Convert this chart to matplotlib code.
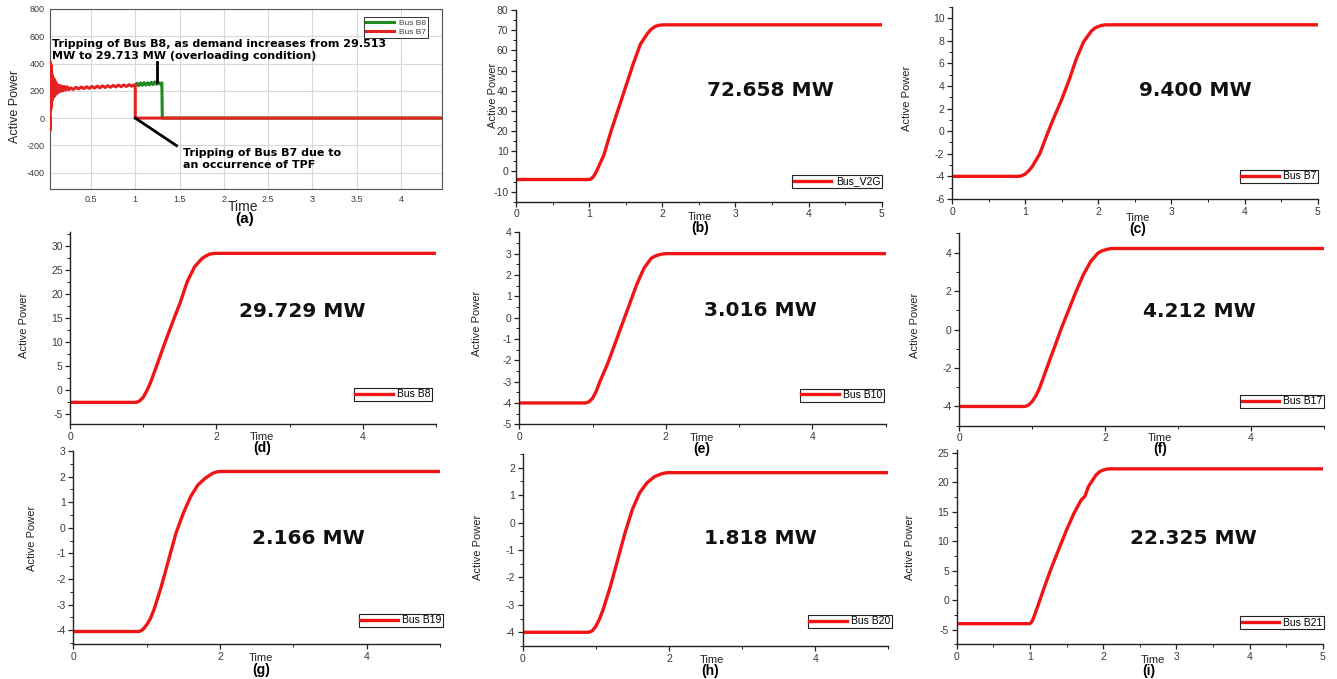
import matplotlib
matplotlib.use('Agg')
import matplotlib.pyplot as plt
from matplotlib.ticker import MultipleLocator

plt.rcParams['axes.unicode_minus'] = False

W, H = 1337, 679

# ---------------- Panel (a) data ----------------
t_a_b7 = [0.037, 0.039, 0.042, 0.045, 0.048, 0.051, 0.054, 0.057, 0.060, 0.064,
          0.068, 0.073, 0.078, 0.084, 0.090, 0.097, 0.105, 0.113, 0.122, 0.132,
          0.143, 0.155, 0.168, 0.182, 0.197, 0.213, 0.230, 0.250,
          0.27, 0.30, 0.33, 0.36, 0.39, 0.42, 0.45, 0.48, 0.51, 0.54, 0.57,
          0.60, 0.63, 0.66, 0.69, 0.72, 0.75, 0.78, 0.81, 0.84, 0.87, 0.90,
          0.93, 0.96, 0.99, 1.0, 1.0, 4.46]
p_a_b7 = [0, -90, 410, 60, 390, 80, 350, 120, 320, 140,
          300, 150, 290, 160, 280, 170, 260, 180, 245, 190,
          240, 195, 235, 200, 232, 205, 230, 208,
          222, 210, 226, 214, 228, 216, 230, 218, 232, 220, 234,
          222, 236, 224, 238, 226, 240, 228, 242, 230, 243, 232,
          245, 234, 244, 240, 0, 0]
t_a_b8 = [1.0, 1.02, 1.04, 1.06, 1.08, 1.10, 1.12, 1.14, 1.16, 1.18, 1.20,
          1.22, 1.24, 1.26, 1.28, 1.30, 1.305, 4.46]
p_a_b8 = [240, 255, 238, 258, 240, 260, 242, 258, 244, 262, 246,
          265, 248, 262, 250, 258, 0, 0]

# ---------------- Panels (b)-(i) data ----------------
t_b = [0, 1.0, 1.03, 1.06, 1.1, 1.2, 1.3, 1.4, 1.5, 1.6, 1.7, 1.8, 1.85, 1.9, 1.95, 2.0, 2.1, 5.0]
p_b = [-4, -4, -3.6, -2.5, 0, 8, 20, 31, 42, 53, 63, 68.5, 70.5, 71.8, 72.4, 72.6, 72.658, 72.658]

t_c = [0, 0.9, 0.95, 1.0, 1.05, 1.1, 1.2, 1.3, 1.4, 1.5, 1.6, 1.7, 1.8, 1.9, 1.95, 2.0, 2.05, 2.1, 5.0]
p_c = [-4, -4, -3.95, -3.8, -3.5, -3.1, -2.0, -0.3, 1.3, 2.8, 4.5, 6.4, 7.9, 8.8, 9.1, 9.25, 9.35, 9.4, 9.4]

t_d = [0, 0.9, 0.95, 1.0, 1.05, 1.1, 1.2, 1.3, 1.4, 1.5, 1.6, 1.7, 1.8, 1.85, 1.9, 1.95, 2.0, 5.0]
p_d = [-2.5, -2.5, -2.2, -1.4, 0.0, 1.7, 5.9, 10.1, 14.2, 18.1, 22.6, 25.7, 27.4, 27.9, 28.3, 28.45, 28.5, 28.5]

t_e = [0, 0.9, 0.95, 1.0, 1.05, 1.1, 1.2, 1.3, 1.4, 1.5, 1.6, 1.7, 1.8, 1.85, 1.9, 1.95, 2.0, 5.0]
p_e = [-4, -4, -3.95, -3.78, -3.45, -3.0, -2.2, -1.28, -0.34, 0.59, 1.53, 2.31, 2.78, 2.88, 2.94, 2.98, 3.0, 3.0]

t_f = [0, 0.9, 0.95, 1.0, 1.05, 1.1, 1.2, 1.3, 1.4, 1.5, 1.6, 1.7, 1.8, 1.9, 1.95, 2.0, 2.05, 2.1, 5.0]
p_f = [-4, -4, -3.93, -3.74, -3.45, -3.05, -2.0, -0.97, 0.07, 1.02, 1.97, 2.84, 3.53, 3.97, 4.08, 4.14, 4.19, 4.21, 4.21]

t_g = [0, 0.9, 0.95, 1.0, 1.05, 1.1, 1.2, 1.3, 1.4, 1.5, 1.6, 1.7, 1.8, 1.9, 1.95, 2.0, 5.0]
p_g = [-4.05, -4.05, -3.97, -3.79, -3.55, -3.2, -2.29, -1.25, -0.21, 0.57, 1.22, 1.68, 1.94, 2.13, 2.18, 2.2, 2.2]

t_h = [0, 0.9, 0.95, 1.0, 1.05, 1.1, 1.2, 1.3, 1.4, 1.5, 1.6, 1.7, 1.8, 1.9, 1.95, 2.0, 5.0]
p_h = [-4, -4, -3.95, -3.78, -3.52, -3.17, -2.32, -1.35, -0.37, 0.48, 1.09, 1.45, 1.67, 1.78, 1.81, 1.82, 1.82]

t_i = [0, 1.0, 1.03, 1.05, 1.1, 1.2, 1.3, 1.4, 1.5, 1.6, 1.7, 1.75, 1.8, 1.9, 1.95, 2.0, 2.05, 2.1, 5.0]
p_i = [-4, -4, -3.6, -3.0, -1.3, 2.3, 5.7, 8.8, 11.9, 14.7, 17.0, 17.6, 19.3, 21.2, 21.8, 22.1, 22.25, 22.3, 22.3]

values = ["72.658 MW", "9.400 MW", "29.729 MW", "3.016 MW", "4.212 MW",
          "2.166 MW", "1.818 MW", "22.325 MW"]
bus_names = ["Bus_V2G", "Bus B7", "Bus B8", "Bus B10", "Bus B17",
             "Bus B19", "Bus B20", "Bus B21"]
panel_tags = ["(a)", "(b)", "(c)", "(d)", "(e)", "(f)", "(g)", "(h)", "(i)"]

RED = '#f01414'
TICKC = '#3a3a3a'
SANS = ['Liberation Sans', 'DejaVu Sans']
NARROW = ['Liberation Sans Narrow', 'Liberation Sans', 'DejaVu Sans']

fig = plt.figure(figsize=(W / 100, H / 100), dpi=100)


def px_axes(x0, y0, x1, y1):
    return fig.add_axes([x0 / W, 1 - y1 / H, (x1 - x0) / W, (y1 - y0) / H])


def ftext(x, y, s, **kw):
    fig.text(x / W, 1 - y / H, s, ha='center', va='center', **kw)


# ---------------- Panel (a) ----------------
axa = px_axes(50, 9, 441.7, 189)
axa.plot(t_a_b8, p_a_b8, color='#1f8a1f', lw=2.2, label='Bus B8', zorder=2)
axa.plot(t_a_b7, p_a_b7, color='#e52222', lw=2.2, label='Bus B7', zorder=3)
axa.set_xlim(0.037, 4.46)
axa.set_ylim(-520, 800)
axa.yaxis.set_major_locator(MultipleLocator(200))
axa.set_xticks([0.5, 1, 1.5, 2, 2.5, 3, 3.5, 4])
axa.set_xticklabels(['0.5', '1', '1.5', '2', '2.5', '3', '3.5', '4'])
axa.grid(True, color='#d8d8d8', lw=0.8)
axa.set_axisbelow(True)
axa.tick_params(length=0, labelsize=6.5, labelcolor=TICKC, pad=4)
for lab in axa.get_xticklabels() + axa.get_yticklabels():
    lab.set_family(SANS)
for s in axa.spines.values():
    s.set_color('#555555')
    s.set_linewidth(0.8)
leg = axa.legend(loc='upper right', bbox_to_anchor=(0.966, 0.956), borderaxespad=0,
                 handlelength=3.3, labelspacing=0.1, borderpad=0.3,
                 handletextpad=0.6, fancybox=False, framealpha=1,
                 prop={'family': SANS, 'size': 6})
leg.get_frame().set_edgecolor('#333333')
leg.get_frame().set_linewidth(0.7)
for txt in leg.get_texts():
    txt.set_color('#444444')
axa.text(0.005, 0.835,
         "Tripping of Bus B8, as demand increases from 29.513\nMW to 29.713 MW (overloading condition)",
         transform=axa.transAxes, ha='left', va='top', fontsize=8, fontweight='bold',
         family='DejaVu Sans', linespacing=1.3, zorder=5)
axa.plot([1.245, 1.245], [415, 265], color='black', lw=2, zorder=5)
axa.plot([1.0, 1.466], [0, -202], color='black', lw=2, zorder=5)
axa.text(0.339, 0.228, "Tripping of Bus B7 due to\nan occurrence of TPF",
         transform=axa.transAxes, ha='left', va='top', fontsize=8, fontweight='bold',
         family='DejaVu Sans', linespacing=1.3, zorder=5)
ftext(15, 106, 'Active Power', rotation=90, fontsize=9, family=NARROW, color='#222222')
ftext(243, 207, 'Time', fontsize=10, family=SANS, color='#222222')
ftext(245, 219, '(a)', fontsize=11, family=SANS, fontweight='bold')

# ---------------- Panels (b)-(i) ----------------
panels = [
    (t_b, p_b, (516, 10, 881.7, 201.7), (-15, 80), 10, 5, 1, 0.5, (1.0, 0.071),
     (770, 90), (493, 95), (700, 217), (700, 228)),
    (t_c, p_c, (952, 6.7, 1317.7, 199), (-6, 11), 2, 1, 1, 0.5, (1.0, 0.083),
     (1195, 90), (907, 98), (1138, 218), (1138, 229)),
    (t_d, p_d, (70.3, 231.7, 435.7, 424), (-7, 33), 5, 2.5, 2, 1, (0.99, 0.121),
     (302, 312), (24, 325), (262, 437), (262, 448)),
    (t_e, p_e, (519.3, 232.3, 885.7, 424.3), (-5, 4), 1, 0.5, 2, 1, (0.995, 0.118),
     (760, 311), (477, 323), (702, 438), (702, 449)),
    (t_f, p_f, (959.3, 233.3, 1324, 425.7), (-5, 5), 2, 1, 2, 1, (1.0, 0.092),
     (1199, 312), (915, 325), (1160, 438), (1160, 449)),
    (t_g, p_g, (73.3, 451, 440, 644.3), (-4.55, 3), 1, 0.5, 2, 1, (1.008, 0.091),
     (308, 538), (32, 538), (261, 658), (261, 670)),
    (t_h, p_h, (522.7, 454, 888.3, 646), (-4.5, 2.5), 1, 0.5, 2, 1, (1.009, 0.094),
     (760, 539), (478, 547), (712, 660), (710, 671)),
    (t_i, p_i, (956.7, 450, 1322.7, 644.3), (-7.5, 25.5), 5, 2.5, 1, 0.5, (1.004, 0.077),
     (1193, 539), (910, 547), (1153, 660), (1149, 671)),
]

for k, (t, p, box, ylim, ymaj, ymin, xmaj, xmin, lanc, vpos, ylpos, tpos, tagpos) in enumerate(panels):
    ax = px_axes(*box)
    ax.plot(t, p, color=RED, lw=2.4, label=bus_names[k], solid_joinstyle='round')
    ax.set_xlim(0, 5)
    ax.set_ylim(*ylim)
    ax.xaxis.set_major_locator(MultipleLocator(xmaj))
    ax.xaxis.set_minor_locator(MultipleLocator(xmin))
    ax.yaxis.set_major_locator(MultipleLocator(ymaj))
    ax.yaxis.set_minor_locator(MultipleLocator(ymin))
    ax.spines['top'].set_visible(False)
    ax.spines['right'].set_visible(False)
    for side in ('left', 'bottom'):
        ax.spines[side].set_color('#222222')
        ax.spines[side].set_linewidth(1.0)
    ax.tick_params(which='major', direction='out', length=3.5, width=0.9,
                   labelsize=7.5, labelcolor=TICKC, color='#222222', pad=2)
    ax.tick_params(which='minor', direction='out', length=2, width=0.7, color='#222222')
    for lab in ax.get_xticklabels() + ax.get_yticklabels():
        lab.set_family(SANS)
    leg = ax.legend(loc='lower right', bbox_to_anchor=lanc, borderaxespad=0,
                    handlelength=3.6, handletextpad=0.4, borderpad=0.15,
                    fancybox=False, framealpha=1,
                    prop={'family': SANS, 'size': 7.5})
    leg.get_frame().set_edgecolor('#222222')
    leg.get_frame().set_linewidth(0.8)
    ftext(vpos[0], vpos[1], values[k], fontsize=14.5, fontweight='bold',
          family='DejaVu Sans', color='#111111')
    ftext(ylpos[0], ylpos[1], 'Active Power', rotation=90, fontsize=8,
          family=NARROW, color='#222222')
    ftext(tpos[0], tpos[1], 'Time', fontsize=8, family=SANS, color='#222222')
    ftext(tagpos[0], tagpos[1], panel_tags[k + 1], fontsize=10, family=SANS,
          fontweight='bold')

fig.savefig('out.png', dpi=100)
